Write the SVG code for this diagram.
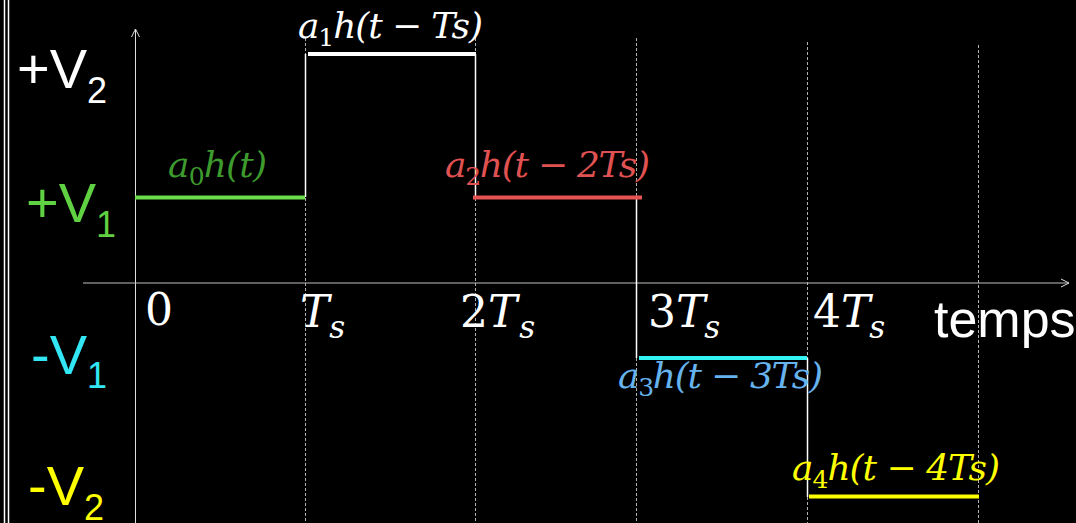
<svg xmlns="http://www.w3.org/2000/svg" width="1076" height="523" viewBox="0 0 1076 523">
<style>
.lvl{font-family:"Liberation Sans",Arial,sans-serif;font-size:56px}
.sub{font-size:36px}
.math{font-family:"DejaVu Serif","Liberation Serif",serif;font-style:italic;font-size:36px}
.msub{font-size:25px;font-style:normal}
.tick{font-family:"DejaVu Serif","Liberation Serif",serif;font-size:44px;fill:#fff}
.ts{font-style:italic;font-size:31px}
.grid{stroke:#b0b0b0;stroke-width:1;stroke-dasharray:3 2}
.step{stroke:#fff;stroke-width:1.5}
.seg{stroke-width:4}
</style>
<defs>
<marker id="arr" viewBox="0 0 10 10" refX="9" refY="5" markerWidth="10" markerHeight="10" markerUnits="userSpaceOnUse" orient="auto">
<path d="M1,1 L9,5 L1,9" fill="none" stroke="#ddd" stroke-width="1"/>
</marker>
</defs>
<rect width="1076" height="523" fill="#000"/>
<g id="border">
<line x1="4.5" y1="0" x2="4.5" y2="523" stroke="#fff" stroke-width="1.5"/>
<line x1="8.5" y1="0" x2="8.5" y2="523" stroke="#fff" stroke-width="1.5"/>
</g>
<g id="connectors">
<line id="grid1" class="grid" x1="305.5" y1="38" x2="305.5" y2="523"/>
<line id="grid2" class="grid" x1="475.5" y1="38" x2="475.5" y2="523"/>
<line id="grid3" class="grid" x1="636.5" y1="38" x2="636.5" y2="523"/>
<line id="grid4" class="grid" x1="807.5" y1="42" x2="807.5" y2="523"/>
<line id="grid5" class="grid" x1="978.5" y1="45" x2="978.5" y2="523"/>
<line id="yaxis" x1="135.5" y1="523" x2="135.5" y2="29" stroke="#e0e0e0" stroke-width="1" marker-end="url(#arr)"/>
<line id="xaxis" x1="83" y1="283" x2="1069" y2="283" stroke="#c0c0c0" stroke-width="1.2" marker-end="url(#arr)"/>
<line class="step" x1="305.5" y1="54" x2="305.5" y2="197"/>
<line class="step" x1="475.5" y1="54" x2="475.5" y2="197"/>
<line class="step" x1="636.5" y1="197" x2="636.5" y2="358"/>
<line class="step" x1="807.5" y1="358" x2="807.5" y2="497"/>
</g>
<g id="seg0"><line class="seg" x1="135" y1="197.5" x2="305" y2="197.5" stroke="#6ade4c"/></g>
<g id="seg1"><line class="seg" x1="308" y1="54" x2="476" y2="54" stroke="#fff"/></g>
<g id="seg2"><line class="seg" x1="473" y1="197.5" x2="642" y2="197.5" stroke="#e65353"/></g>
<g id="seg3"><line class="seg" x1="639" y1="358" x2="807" y2="358" stroke="#33f3f3"/></g>
<g id="seg4"><line class="seg" x1="809" y1="496.5" x2="979" y2="496.5" stroke="#ffff00"/></g>
<g id="levels">
<text class="lvl" x="17" y="88" fill="#fff">+V<tspan class="sub" dy="15">2</tspan></text>
<text class="lvl" x="26" y="222" fill="#5fd142">+V<tspan class="sub" dy="15">1</tspan></text>
<text class="lvl" x="31" y="374" fill="#33e6f3">-V<tspan class="sub" dy="14">1</tspan></text>
<text class="lvl" x="28" y="505" fill="#ffff00">-V<tspan class="sub" dy="15">2</tspan></text>
</g>
<g id="ticks">
<text class="tick" x="145" y="325">0</text>
<text class="tick" x="300" y="327"><tspan font-style="italic">T</tspan><tspan class="ts" dx="0" dy="11">s</tspan></text>
<text class="tick" x="460" y="327">2<tspan font-style="italic">T</tspan><tspan class="ts" dx="2" dy="11">s</tspan></text>
<text class="tick" x="648" y="327">3<tspan font-style="italic">T</tspan><tspan class="ts" dx="-1" dy="11">s</tspan></text>
<text class="tick" x="813" y="327">4<tspan font-style="italic">T</tspan><tspan class="ts" dx="-1" dy="11">s</tspan></text>
<text x="934" y="337" font-family="'Liberation Sans',Arial,sans-serif" font-size="52" fill="#fff">temps</text>
</g>
<g id="label0"><text class="math" x="168" y="177" fill="#3d9b2e" textLength="99" lengthAdjust="spacing">a<tspan class="msub" dy="8">0</tspan><tspan dy="-8">h(t)</tspan></text></g>
<g id="label1"><text class="math" x="298" y="38" fill="#fff" textLength="185" lengthAdjust="spacing">a<tspan class="msub" dy="8">1</tspan><tspan dy="-8">h(t − Ts)</tspan></text></g>
<g id="label2"><text class="math" x="445" y="177" fill="#e05252" textLength="205" lengthAdjust="spacing">a<tspan class="msub" dy="8">2</tspan><tspan dy="-8">h(t − 2Ts)</tspan></text></g>
<g id="label3"><text class="math" x="618" y="388" fill="#66b3ee" textLength="205" lengthAdjust="spacing">a<tspan class="msub" dy="8">3</tspan><tspan dy="-8">h(t − 3Ts)</tspan></text></g>
<g id="label4"><text class="math" x="792" y="480" fill="#ffff00" textLength="208" lengthAdjust="spacing">a<tspan class="msub" dy="8">4</tspan><tspan dy="-8">h(t − 4Ts)</tspan></text></g>
</svg>
